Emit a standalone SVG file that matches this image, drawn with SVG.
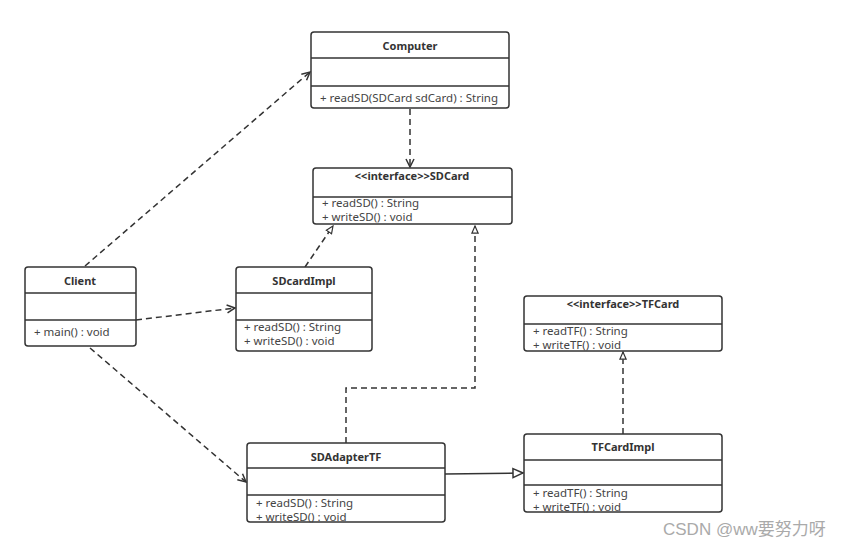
<svg xmlns="http://www.w3.org/2000/svg" width="855" height="553" viewBox="0 0 855 553">
<defs>
<style>
.box{fill:#fff;stroke:#333;stroke-width:1.5}
.sep{stroke:#333;stroke-width:1.3}
.t{font-family:"Noto Sans","Open Sans","Liberation Sans",sans-serif;font-size:11px;fill:#333;font-weight:bold;text-anchor:middle}
.m{font-family:"Noto Sans","Open Sans","Liberation Sans",sans-serif;font-size:11.5px;fill:#444}
.d{fill:none;stroke:#333;stroke-width:1.5;stroke-dasharray:6 4}
.s{fill:none;stroke:#333;stroke-width:1.5}
.wm{font-family:"Liberation Sans","Noto Sans CJK SC",sans-serif;font-size:17px;fill:#aaa}
</style>
<marker id="open" viewBox="0 0 10 10" refX="9" refY="5" markerWidth="10" markerHeight="10" markerUnits="userSpaceOnUse" orient="auto">
<path d="M1,1 L9,5 L1,9" fill="none" stroke="#333" stroke-width="1.5" stroke-dasharray="none"/>
</marker>
<marker id="tri" viewBox="0 0 12 12" refX="11" refY="6" markerWidth="12" markerHeight="12" markerUnits="userSpaceOnUse" orient="auto">
<path d="M1,1.5 L11,6 L1,10.5 Z" fill="#fff" stroke="#333" stroke-width="1.5" stroke-dasharray="none"/>
</marker>
<marker id="tris" viewBox="0 0 10 10" refX="9" refY="5" markerWidth="9" markerHeight="9" markerUnits="userSpaceOnUse" orient="auto">
<path d="M1,1.5 L9,5 L1,8.5 Z" fill="#fff" stroke="#333" stroke-width="1.3" stroke-dasharray="none"/>
</marker>
</defs>
<rect width="855" height="553" fill="#fff"/>

<g id="connectors">
<path class="d" d="M85,266 L310,72" marker-end="url(#open)"/>
<path class="d" d="M410,109 L410,167" marker-end="url(#open)"/>
<path class="d" d="M305,267 L333,226" marker-end="url(#tris)"/>
<path class="d" d="M136,320 L235,308" marker-end="url(#open)"/>
<path class="d" d="M90,348 L246,482" marker-end="url(#open)"/>
<path class="d" d="M346,443 L346,388 L475,388 L475,226" marker-end="url(#tris)"/>
<path class="s" d="M445,474 L523,473" marker-end="url(#tri)"/>
<path class="d" d="M623,434 L623,352" marker-end="url(#tris)"/>
</g>

<g id="Computer">
<rect class="box" x="311" y="32" width="198" height="76" rx="3"/>
<line class="sep" x1="311" y1="58" x2="509" y2="58"/>
<line class="sep" x1="311" y1="86" x2="509" y2="86"/>
<text class="t" x="410" y="50">Computer</text>
<text class="m" x="320" y="102">+ readSD(SDCard sdCard) : String</text>
</g>

<g id="SDCard">
<rect class="box" x="313" y="168" width="199" height="56" rx="3"/>
<line class="sep" x1="313" y1="197" x2="512" y2="197"/>
<text class="t" x="412" y="180">&lt;&lt;interface&gt;&gt;SDCard</text>
<text class="m" x="322" y="207">+ readSD() : String</text>
<text class="m" x="322" y="221">+ writeSD() : void</text>
</g>

<g id="Client">
<rect class="box" x="25" y="267" width="111" height="79" rx="3"/>
<line class="sep" x1="25" y1="293" x2="136" y2="293"/>
<line class="sep" x1="25" y1="320" x2="136" y2="320"/>
<text class="t" x="80" y="285">Client</text>
<text class="m" x="34" y="336">+ main() : void</text>
</g>

<g id="SDcardImpl">
<rect class="box" x="236" y="267" width="136" height="84" rx="3"/>
<line class="sep" x1="236" y1="293" x2="372" y2="293"/>
<line class="sep" x1="236" y1="320" x2="372" y2="320"/>
<text class="t" x="304" y="285">SDcardImpl</text>
<text class="m" x="244" y="331">+ readSD() : String</text>
<text class="m" x="244" y="345">+ writeSD() : void</text>
</g>

<g id="TFCard">
<rect class="box" x="524" y="296" width="198" height="55" rx="3"/>
<line class="sep" x1="524" y1="324" x2="722" y2="324"/>
<text class="t" x="623" y="308">&lt;&lt;interface&gt;&gt;TFCard</text>
<text class="m" x="533" y="335">+ readTF() : String</text>
<text class="m" x="533" y="349">+ writeTF() : void</text>
</g>

<g id="SDAdapterTF">
<rect class="box" x="247" y="443" width="198" height="79" rx="3"/>
<line class="sep" x1="247" y1="468" x2="445" y2="468"/>
<line class="sep" x1="247" y1="495" x2="445" y2="495"/>
<text class="t" x="346" y="461">SDAdapterTF</text>
<text class="m" x="256" y="507">+ readSD() : String</text>
<text class="m" x="256" y="521">+ writeSD() : void</text>
</g>

<g id="TFCardImpl">
<rect class="box" x="524" y="434" width="198" height="78" rx="3"/>
<line class="sep" x1="524" y1="460" x2="722" y2="460"/>
<line class="sep" x1="524" y1="485" x2="722" y2="485"/>
<text class="t" x="623" y="451">TFCardImpl</text>
<text class="m" x="533" y="497">+ readTF() : String</text>
<text class="m" x="533" y="511">+ writeTF() : void</text>
</g>

<text class="wm" x="663" y="535">CSDN @ww要努力呀</text>
</svg>
